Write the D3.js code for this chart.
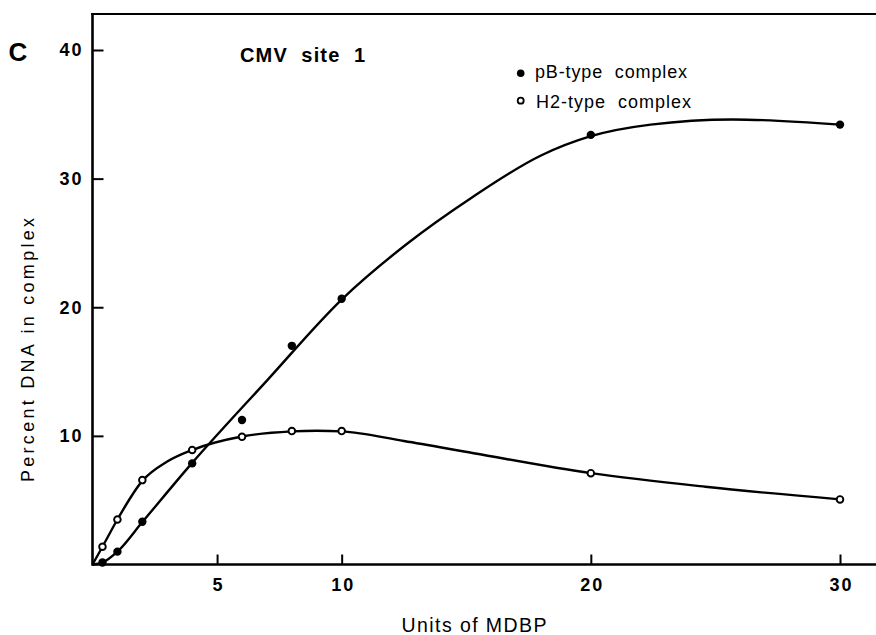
<!DOCTYPE html>
<html>
<head>
<meta charset="utf-8">
<script src="https://cdn.jsdelivr.net/npm/d3@7"></script>
<style>
  html, body { margin: 0; padding: 0; background: #fff; }
  svg { display: block; font-family: "Liberation Sans", Arial, Helvetica, sans-serif; }
</style>
</head>
<body>
<svg id="chart" width="876" height="635"></svg>
<script>
// ---- data ----
const xTicks = [5, 10, 20, 30];
const yTicks = [10, 20, 30, 40];

// measured points
const pbX = [0.4, 1, 2, 4, 6, 8, 10, 20, 30];
const pbY = [0.16, 1.0, 3.32, 7.86, 11.23, 17.0, 20.66, 33.4, 34.2];

const h2X = [0.4, 1, 2, 4, 6, 8, 10, 20, 30];
const h2Y = [1.38, 3.5, 6.56, 8.9, 9.93, 10.37, 10.37, 7.1, 5.06];

// hand-drawn fitted curves
const pbFitX = [0, 0.4, 1, 2, 4, 7, 10, 12.6, 15.2, 18, 20, 22.4, 25.7, 30];
const pbFitY = [0, 0.15, 1.0, 3.3, 7.9, 14.3, 20.6, 24.9, 28.5, 31.8, 33.3, 34.2, 34.6, 34.2];

const h2FitX = [0, 0.4, 1, 2, 3, 4, 6, 8, 9, 10, 12.5, 15.3, 20, 24.6, 30];
const h2FitY = [0, 1.38, 3.5, 6.5, 8.0, 8.9, 9.95, 10.35, 10.4, 10.35, 9.6, 8.65, 7.1, 6.04, 5.06];

const seriesNames = ["pB-type  complex", "H2-type  complex"];
const title = "CMV  site  1";
const panelLabel = "C";
const xLabel = "Units of MDBP";
const yLabel = "Percent DNA in complex";

// ---- drawing ----
const svg = d3.select("#chart");
const x = d3.scaleLinear().domain([0, 30]).range([92.5, 840]);
const y = d3.scaleLinear().domain([0, 40]).range([564.5, 50]);

const ink = "#000";

// frame lines: left axis, bottom axis (extends to the right edge), top line
svg.append("line").attr("x1", x(0)).attr("x2", 876).attr("y1", y(0)).attr("y2", y(0))
  .attr("stroke", ink).attr("stroke-width", 2.6);
svg.append("line").attr("x1", x(0)).attr("x2", x(0)).attr("y1", 13).attr("y2", y(0) + 1.3)
  .attr("stroke", ink).attr("stroke-width", 2.6);
svg.append("line").attr("x1", x(0) - 1.3).attr("x2", 876).attr("y1", 14).attr("y2", 14)
  .attr("stroke", ink).attr("stroke-width", 2.2);

// axes with inward ticks
const xAxis = d3.axisBottom(x).tickValues(xTicks).tickSize(-10).tickPadding(14).tickFormat(d3.format("d"));
const gx = svg.append("g").attr("transform", `translate(0,${y(0)})`).call(xAxis);
gx.select(".domain").remove();
gx.selectAll(".tick line").attr("stroke", ink).attr("stroke-width", 2);
gx.selectAll(".tick text").attr("fill", ink).attr("font-size", 18).attr("font-weight", "bold")
  .attr("font-family", "Liberation Sans, Arial, sans-serif").style("letter-spacing", "2px")
  .attr("dx", "1px");

const yAxis = d3.axisLeft(y).tickValues(yTicks).tickSize(-11).tickPadding(9).tickFormat(d3.format("d"));
const gy = svg.append("g").attr("transform", `translate(${x(0)},0)`).call(yAxis);
gy.select(".domain").remove();
gy.selectAll(".tick line").attr("stroke", ink).attr("stroke-width", 2);
gy.selectAll(".tick text").attr("fill", ink).attr("font-size", 18).attr("font-weight", "bold")
  .attr("font-family", "Liberation Sans, Arial, sans-serif").style("letter-spacing", "2px");

// fitted curves
const line = d3.line().x(d => x(d[0])).y(d => y(d[1])).curve(d3.curveMonotoneX);
const pbFit = pbFitX.map((v, i) => [v, pbFitY[i]]);
const h2Fit = h2FitX.map((v, i) => [v, h2FitY[i]]);
svg.append("path").datum(pbFit).attr("d", line).attr("fill", "none").attr("stroke", ink).attr("stroke-width", 2.4);
svg.append("path").datum(h2Fit).attr("d", line).attr("fill", "none").attr("stroke", ink).attr("stroke-width", 2.4);

// points
const pb = pbX.map((v, i) => [v, pbY[i]]);
const h2 = h2X.map((v, i) => [v, h2Y[i]]);
svg.append("g").selectAll("circle").data(pb).join("circle")
  .attr("cx", d => x(d[0])).attr("cy", d => y(d[1])).attr("r", 4.2).attr("fill", ink);
svg.append("g").selectAll("circle").data(h2).join("circle")
  .attr("cx", d => x(d[0])).attr("cy", d => y(d[1])).attr("r", 3.3)
  .attr("fill", "#fff").attr("stroke", ink).attr("stroke-width", 1.9);

// legend
svg.append("circle").attr("cx", 520.7).attr("cy", 73.3).attr("r", 3.8).attr("fill", ink);
svg.append("circle").attr("cx", 520.7).attr("cy", 100.7).attr("r", 3.0).attr("fill", "#fff")
  .attr("stroke", ink).attr("stroke-width", 1.8);
svg.append("text").attr("x", 535).attr("y", 77.8).attr("font-size", 18).attr("fill", ink)
  .attr("textLength", 152).attr("lengthAdjust", "spacing").attr("xml:space", "preserve").text(seriesNames[0]);
svg.append("text").attr("x", 536).attr("y", 107.8).attr("font-size", 18).attr("fill", ink)
  .attr("textLength", 155).attr("lengthAdjust", "spacing").attr("xml:space", "preserve").text(seriesNames[1]);

// title and panel label
svg.append("text").attr("x", 240).attr("y", 62).attr("font-size", 20).attr("font-weight", "bold")
  .attr("fill", ink).attr("textLength", 125).attr("lengthAdjust", "spacing")
  .attr("xml:space", "preserve").text(title);
svg.append("text").attr("x", 8.5).attr("y", 61).attr("font-size", 26).attr("font-weight", "bold")
  .attr("fill", ink).text(panelLabel);

// axis titles
svg.append("text").attr("x", 474).attr("y", 632).attr("text-anchor", "middle").attr("font-size", 19.5)
  .attr("fill", ink).attr("textLength", 145).attr("lengthAdjust", "spacing").text(xLabel);
svg.append("text").attr("transform", "translate(34,350) rotate(-90)").attr("text-anchor", "middle")
  .attr("font-size", 18).attr("fill", ink).attr("textLength", 264).attr("lengthAdjust", "spacing")
  .text(yLabel);
</script>
</body>
</html>
